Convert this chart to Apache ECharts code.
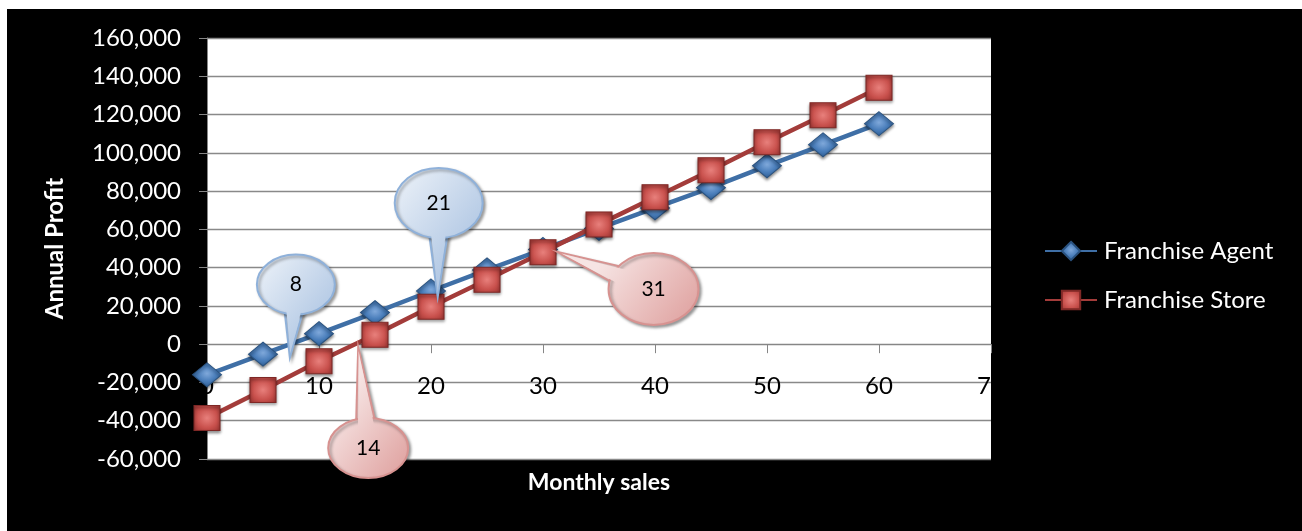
<!DOCTYPE html>
<html><head><meta charset="utf-8">
<script src="https://cdn.jsdelivr.net/npm/echarts@6/dist/echarts.min.js"></script>
<style>
html,body{margin:0;padding:0;background:#fff;width:1302px;height:531px;overflow:hidden;}
#c{position:absolute;left:7px;top:9px;width:1295px;height:522px;}
</style></head>
<body><div id="c"></div>
<script>
// ---- data ----
var monthlySales = [0, 5, 10, 15, 20, 25, 30, 35, 40, 45, 50, 55, 60];
var agentProfit = [-16000, -5200, 5500, 16500, 27800, 38800, 49500, 60500, 71200, 81800, 93200, 104200, 115200];
var storeProfit = [-38600, -23900, -8900, 4900, 19600, 33700, 48000, 62600, 76800, 90900, 105500, 119600, 134000];
var seriesNames = ['Franchise Agent', 'Franchise Store'];
var calloutText = ['8', '21', '14', '31'];
var calloutAnchorX = [7.4, 20.6, 13.5, 31.3];
var calloutAnchorY = [-7000, 24700, -1500, 48200];
var calloutTheme = ['blue', 'blue', 'red', 'red'];

var FONT = 'Lato, "Open Sans", sans-serif';
var chart = echarts.init(document.getElementById('c'), null, {renderer: 'canvas'});

function pts(xs, ys) { return xs.map(function (x, i) { return [x, ys[i]]; }); }

var diamondColor = {type: 'radial', x: 0.5, y: 0.45, r: 0.6,
  colorStops: [{offset: 0, color: '#7FA8DA'}, {offset: 0.5, color: '#4A7EBB'}, {offset: 1, color: '#2B5A8F'}]};
var squareColor = {type: 'radial', x: 0.5, y: 0.5, r: 0.7,
  colorStops: [{offset: 0, color: '#E8807C'}, {offset: 0.55, color: '#C9514D'}, {offset: 1, color: '#9A3330'}]};

var option = {
  backgroundColor: '#000',
  animation: false,
  grid: {left: 200, top: 29, right: 311, bottom: 72, show: true, backgroundColor: '#fff', borderWidth: 0,
    containLabel: false, outerBoundsMode: 'none'},
  legend: {
    orient: 'vertical', left: 1032, top: 225,
    itemWidth: 52, itemHeight: 23, itemGap: 25,
    selectedMode: false,
    textStyle: {color: '#fff', fontSize: 24, fontFamily: FONT, padding: [0, 0, 0, 2]},
    data: seriesNames
  },
  xAxis: [{
    // axis line crossing at zero, with ticks
    type: 'value', min: 0, max: 70, interval: 10,
    axisLine: {show: true, onZero: true, lineStyle: {color: '#868686', width: 1}},
    axisTick: {show: true, inside: false, length: 9, lineStyle: {color: '#868686'}},
    axisLabel: {show: false},
    splitLine: {show: false}
  }, {
    // labels and title, placed from the bottom edge
    type: 'value', min: 0, max: 70, interval: 10, position: 'bottom',
    name: 'Monthly sales', nameLocation: 'middle', nameGap: 12,
    nameTextStyle: {color: '#fff', fontSize: 23, fontWeight: 'bold', fontFamily: FONT, verticalAlign: 'top'},
    axisLine: {show: false, onZero: false},
    axisTick: {show: false},
    axisLabel: {show: true, color: '#000', fontSize: 24, fontFamily: FONT, margin: -85, verticalAlign: 'top'},
    splitLine: {show: false}
  }],
  yAxis: {
    type: 'value', min: -60000, max: 160000, interval: 20000,
    name: 'Annual Profit', nameLocation: 'middle', nameGap: 140, nameRotate: 90,
    nameTextStyle: {color: '#fff', fontSize: 24, fontWeight: 'bold', fontFamily: FONT},
    axisLine: {show: true, lineStyle: {color: '#868686', width: 1}},
    axisTick: {show: true, length: 8, lineStyle: {color: '#868686'}},
    axisLabel: {color: '#fff', fontSize: 24, fontFamily: FONT, margin: 26,
      formatter: function (v) { return v.toLocaleString('en-US'); }},
    splitLine: {show: true, lineStyle: {color: '#898989', width: 1.3}}
  },
  series: [
    {
      name: seriesNames[0], type: 'line', xAxisIndex: 0, data: pts(monthlySales, agentProfit),
      symbol: 'diamond', symbolSize: [29, 24],
      lineStyle: {color: '#3F6FA6', width: 4.5},
      itemStyle: {color: diamondColor, borderColor: '#2A527F', borderWidth: 1,
        shadowBlur: 3, shadowColor: 'rgba(0,0,0,0.45)', shadowOffsetY: 2},
      z: 3
    },
    {
      name: seriesNames[1], type: 'line', xAxisIndex: 0, data: pts(monthlySales, storeProfit),
      symbol: 'rect', symbolSize: [26, 25],
      lineStyle: {color: '#A33C3A', width: 4.5},
      itemStyle: {color: squareColor, borderColor: '#7F2826', borderWidth: 1,
        shadowBlur: 3, shadowColor: 'rgba(0,0,0,0.45)', shadowOffsetY: 2},
      z: 4
    }
  ]
};
chart.setOption(option);

// ---- callouts (annotations anchored to data coordinates) ----
var themes = {
  blue: {c1: '#EEF3F9', c2: '#AFC6E3', stroke: '#8FB1DA'},
  red: {c1: '#F6E4E3', c2: '#DE9E9C', stroke: '#D79290'}
};
var calloutShape = [ // [dx, dy, rx, ry] of bubble centre relative to tip (layout only)
  [6, -73, 39, 30],
  [1, -94, 44, 35],
  [10, 101, 40, 30],
  [96, 37, 45, 36]
];
var graphics = [];
calloutText.forEach(function (t, i) {
  var tip = chart.convertToPixel({xAxisIndex: 0, yAxisIndex: 0}, [calloutAnchorX[i], calloutAnchorY[i]]);
  var s = calloutShape[i];
  var cx = tip[0] + s[0], cy = tip[1] + s[1], rx = s[2], ry = s[3];
  var th = themes[calloutTheme[i]];
  var fill = {type: 'linear', x: cx - rx, y: cy - ry, x2: cx + rx, y2: cy + ry, global: true,
    colorStops: [{offset: 0, color: th.c1}, {offset: 1, color: th.c2}]};
  var dx = tip[0] - cx, dy = tip[1] - cy, len = Math.sqrt(dx * dx + dy * dy);
  var ux = dx / len, uy = dy / len, px = -uy, py = ux;
  var ang = Math.atan2(uy * rx, ux * ry);
  var w = 10, inset = 0.75;
  var bx = cx + Math.cos(ang) * rx * inset, by = cy + Math.sin(ang) * ry * inset;
  var tail = [[tip[0], tip[1]], [bx + px * w, by + py * w], [bx - px * w, by - py * w]];
  var shadow = {shadowBlur: 3, shadowColor: 'rgba(0,0,0,0.35)', shadowOffsetX: 2, shadowOffsetY: 2};
  graphics.push({type: 'polygon', z: 50, shape: {points: tail},
    style: Object.assign({fill: fill, stroke: th.stroke, lineWidth: 2}, shadow)});
  graphics.push({type: 'ellipse', z: 51, shape: {cx: cx, cy: cy, rx: rx, ry: ry},
    style: Object.assign({fill: fill, stroke: th.stroke, lineWidth: 2}, shadow)});
  var inner = [[tip[0] - ux * 4, tip[1] - uy * 4], [bx + px * (w - 2), by + py * (w - 2)], [bx - px * (w - 2), by - py * (w - 2)]];
  graphics.push({type: 'polygon', z: 52, shape: {points: inner}, style: {fill: fill, stroke: null}});
  graphics.push({type: 'text', z: 53, x: cx, y: cy,
    style: {text: t, fill: '#000', font: '21px ' + FONT, align: 'center', verticalAlign: 'middle'}});
});
var edge = chart.convertToPixel({xAxisIndex: 0, yAxisIndex: 0}, [70, 0]);
graphics.push({type: 'rect', z: 100, shape: {x: edge[0] + 0.5, y: edge[1] + 15, width: 30, height: 34}, style: {fill: '#000'}});
chart.setOption({graphic: graphics});
</script>
</body></html>
